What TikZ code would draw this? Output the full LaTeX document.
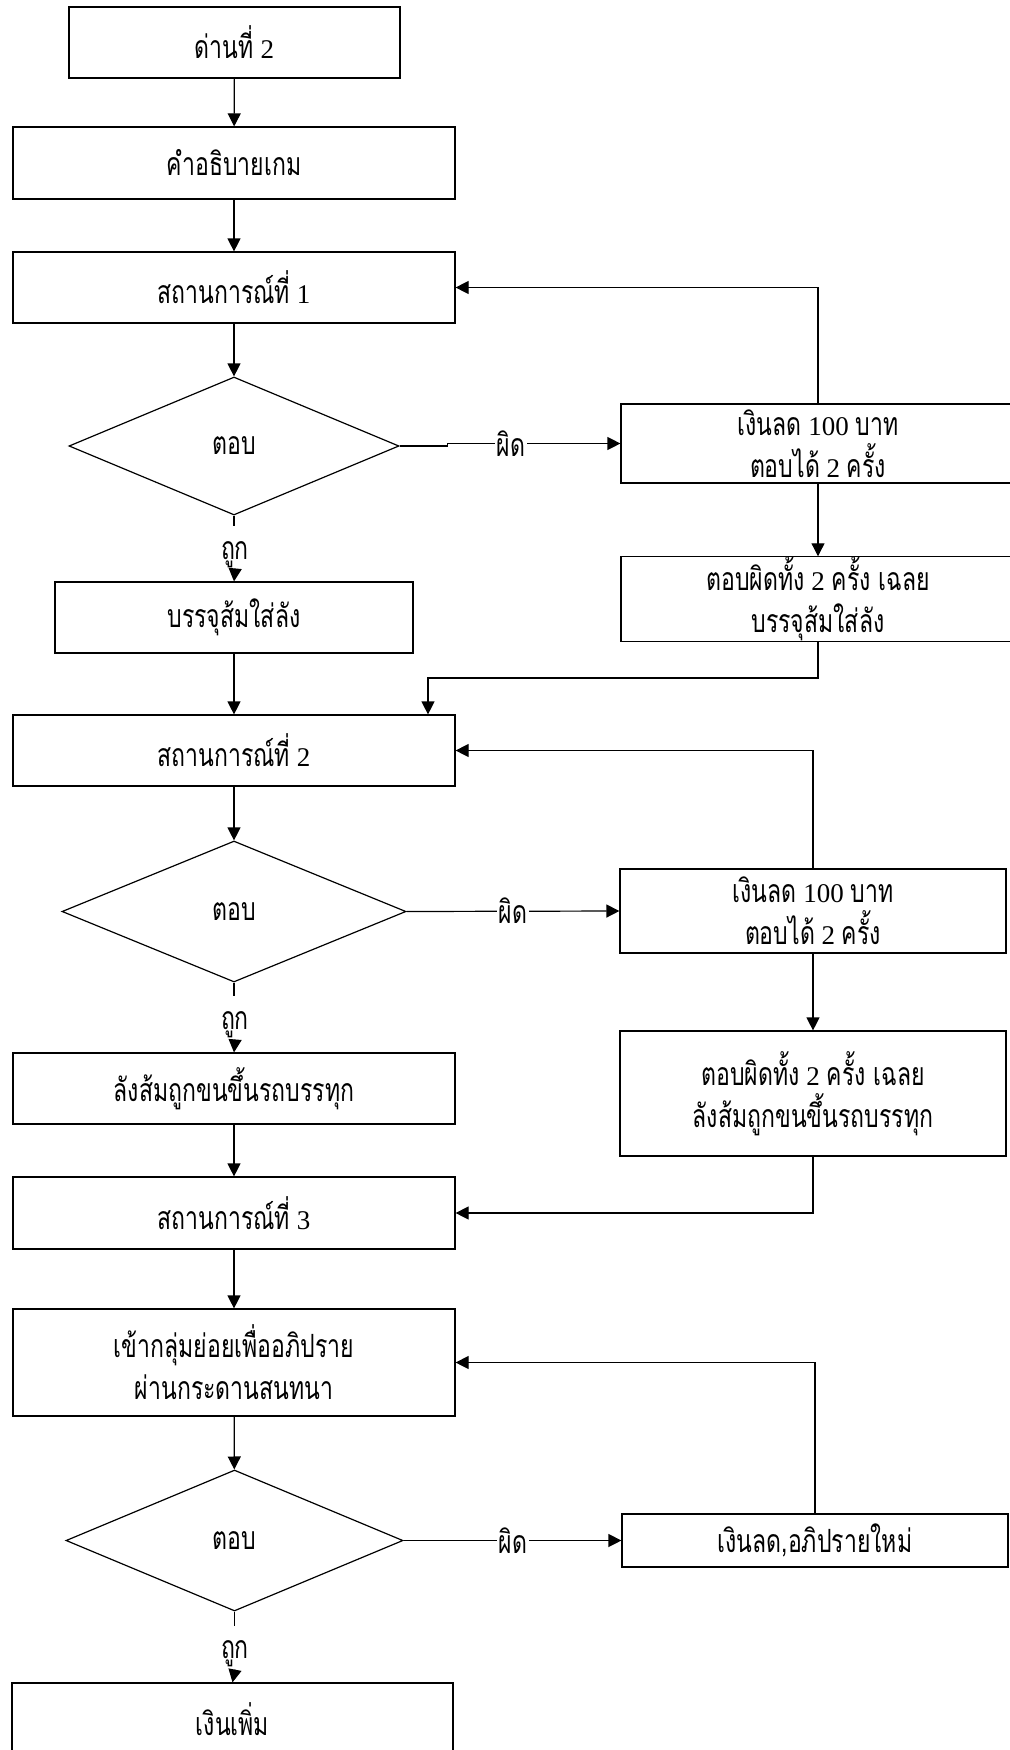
\documentclass[tikz,border=0pt]{standalone}
\usepackage{fontspec}
\setmainfont{Liberation Serif}
\newfontfamily\thaifnt[Script=Thai,FakeStretch=0.72]{Loma}
\newcommand\thai[1]{{\thaifnt\fontsize{16}{21}\selectfont #1}}
\usetikzlibrary{arrows.meta,shapes.geometric,calc}
\begin{document}
\begin{tikzpicture}[x=0.5pt,y=-0.5pt,
  every node/.style={font=\fontsize{13.5}{21}\selectfont},
  box/.style={draw, line width=0.6pt, inner sep=0pt, align=center},
  dia/.style={draw, diamond, line width=0.6pt, inner sep=0pt},
  lbl/.style={inner sep=1pt},
  wlbl/.style={inner sep=1pt, fill=white},
  arr/.style={-{Triangle[length=6.5pt,width=6.5pt]}, line width=0.6pt},
  ln/.style={line width=0.6pt}]
\useasboundingbox (0,0) rectangle (1010,1750);
\fill[white] (0,0) rectangle (1010,1750);

% left column
\node[box, minimum width=165.5pt, minimum height=35.5pt] (b1) at (234.5,42.5) {\thai{ด่านที่} 2};
\node[box, minimum width=221pt, minimum height=36pt] (b2) at (234,163) {\thai{คำอธิบายเกม}};
\node[box, minimum width=221pt, minimum height=35.5pt] (b3) at (234,287.5) {\thai{สถานการณ์ที่} 1};
\node[dia, minimum width=165pt, minimum height=69pt, aspect=2.39] (d1) at (234,446) {\thai{ตอบ}};
\node[box, minimum width=179pt, minimum height=35.5pt] (l1) at (234,617.5) {\thai{บรรจุส้มใส่ลัง}};
\node[box, minimum width=221pt, minimum height=35.5pt] (b4) at (234,750.5) {\thai{สถานการณ์ที่} 2};
\node[dia, minimum width=172pt, minimum height=70.5pt, aspect=2.44] (d2) at (234,911.5) {\thai{ตอบ}};
\node[box, minimum width=221pt, minimum height=35.5pt] (l2) at (234,1088.5) {\thai{ลังส้มถูกขนขึ้นรถบรรทุก}};
\node[box, minimum width=221pt, minimum height=36pt] (b5) at (234,1213) {\thai{สถานการณ์ที่} 3};
\node[box, minimum width=221pt, minimum height=53.5pt] (b6) at (234,1362.5) {\thai{เข้ากลุ่มย่อยเพื่ออภิปราย}\\\thai{ผ่านกระดานสนทนา}};
\node[dia, minimum width=168.5pt, minimum height=70.5pt, aspect=2.39] (d3) at (234.5,1540.5) {\thai{ตอบ}};
\node[box, minimum width=220.5pt, minimum height=36pt] (b7) at (232.5,1719) {\thai{เงินเพิ่ม}};

% right column
\node[box, minimum width=197pt, minimum height=39.5pt] (r1) at (818,443.5) {\thai{เงินลด} 100 \thai{บาท}\\\thai{ตอบได้} 2 \thai{ครั้ง}};
\node[box, minimum width=197pt, minimum height=40pt] (r2) at (818,599) {\thai{ตอบผิดทั้ง} 2 \thai{ครั้ง เฉลย}\\\thai{บรรจุส้มใส่ลัง}};
\node[box, minimum width=193pt, minimum height=42pt] (r3) at (813,911) {\thai{เงินลด} 100 \thai{บาท}\\\thai{ตอบได้} 2 \thai{ครั้ง}};
\node[box, minimum width=193pt, minimum height=62.5pt] (r4) at (813,1093.5) {\thai{ตอบผิดทั้ง} 2 \thai{ครั้ง เฉลย}\\\thai{ลังส้มถูกขนขึ้นรถบรรทุก}};
\node[box, minimum width=193pt, minimum height=26.5pt] (r5) at (815,1540.5) {\thai{เงินลด,อภิปรายใหม่}};

% main flow
\draw[arr] (b1) -- (b2);
\draw[arr] (b2) -- (b3);
\draw[arr] (b3) -- (d1);
\draw[arr] (l1) -- (b4);
\draw[arr] (b4) -- (d2);
\draw[arr] (l2) -- (b5);
\draw[arr] (b5) -- (b6);
\draw[arr] (b6) -- (d3);

% yes branches
\draw[ln] (d1.south) -- ++(0,10);
\node[lbl] (y1) at (235,555) {\thai{ถูก}};
\draw[arr] (y1.south) -- (l1.north);
\draw[ln] (d2.south) -- ++(0,13);
\node[lbl] (y2) at (235,1025) {\thai{ถูก}};
\draw[arr] (y2.south) -- (l2.north);
\draw[ln] (d3.south) -- ++(0,14);
\node[lbl] (y3) at (235,1654) {\thai{ถูก}};
\draw[arr] (y3.south) -- (b7.north);

% no branches
\draw[arr] (d1.east) -- ++(48,0) |- (r1.west);
\node[wlbl] (n1) at (511,443.5) {\thai{ผิด}};
\draw[arr] (d2.east) -- (r3.west);
\node[wlbl] (n2) at (513,911) {\thai{ผิด}};
\draw[arr] (d3.east) -- (r5.west);
\node[wlbl] (n3) at (513,1540.5) {\thai{ผิด}};

% right side flows
\draw[arr] (r1.north) |- (b3.east);
\draw[arr] (r1) -- (r2);
\coordinate (j1) at (428,678);
\draw[arr] (r2.south) |- (j1) -- (j1 |- b4.north);
\draw[arr] (r3.north) |- (b4.east);
\draw[arr] (r3) -- (r4);
\draw[arr] (r4.south) |- (b5.east);
\draw[arr] (r5.north) |- (b6.east);
\end{tikzpicture}
\end{document}
